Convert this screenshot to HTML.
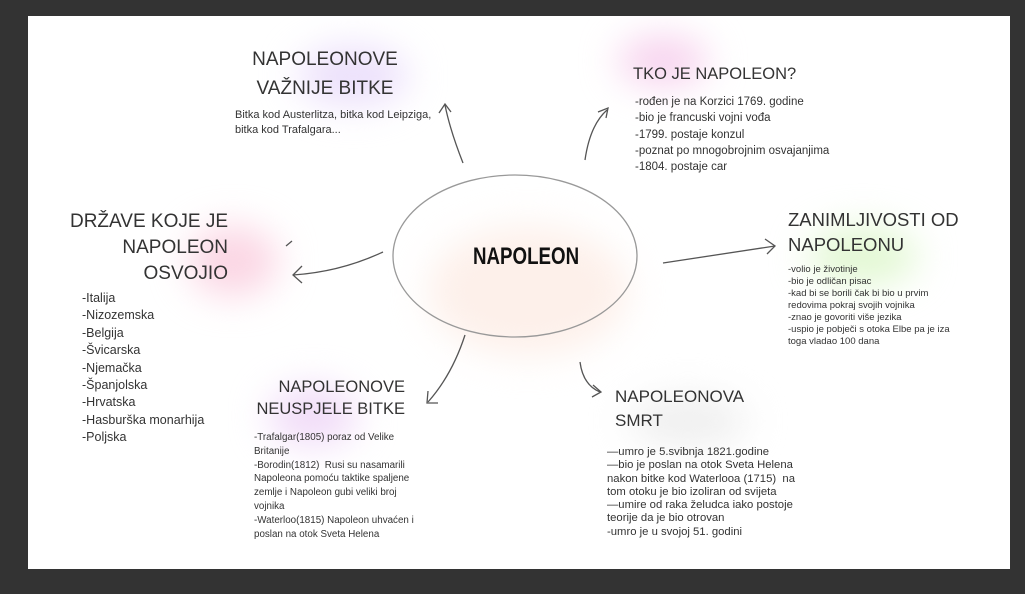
<!DOCTYPE html>
<html><head><meta charset="utf-8"><style>
body{margin:0;width:1025px;height:594px;background:#333;position:relative;overflow:hidden;font-family:"Liberation Sans",sans-serif;}
#card{position:absolute;left:28px;top:16px;width:982px;height:553px;background:#fff;overflow:hidden}
.g{position:absolute;border-radius:50%;filter:blur(18px)}
.h{position:absolute;font-family:"Liberation Sans",sans-serif;color:#333;font-size:19px;line-height:27px;white-space:nowrap}
.t{position:absolute;color:#333;font-size:10px;line-height:17px;white-space:nowrap}
</style></head><body>
<div id="card">
<div class="g" style="left:270px;top:30px;width:110px;height:60px;background:#ece0fb"></div>
<div class="g" style="left:590px;top:20px;width:90px;height:50px;background:#f7d3ee"></div>
<div class="g" style="left:160px;top:210px;width:90px;height:70px;background:#fbd6e4"></div>
<div class="g" style="left:780px;top:210px;width:110px;height:60px;background:#e3f8d4"></div>
<div class="g" style="left:240px;top:370px;width:90px;height:60px;background:#f1dcf8"></div>
<div class="g" style="left:600px;top:380px;width:120px;height:50px;background:#efefef"></div>
<div class="g" style="left:400px;top:210px;width:200px;height:130px;background:#fdf0ea"></div>
</div>
<svg style="position:absolute;left:0;top:0" width="1025" height="594" fill="none" stroke="#555" stroke-width="1.3">
<ellipse cx="515" cy="256" rx="122" ry="81" stroke="#999"/>
<path d="M463 163 Q450 130 445 105"/><path d="M439 113 L445 104 L451 112"/>
<path d="M585 160 Q590 125 607 110"/><path d="M598 112 L608 108 L606 118"/>
<path d="M663 263 L775 246"/><path d="M765 239 L775 246 L767 254"/>
<path d="M383 252 Q340 272 293 275"/><path d="M302 266 L293 275 L302 283"/><path d="M286 246 L292 241"/>
<path d="M465 335 Q452 375 428 402"/><path d="M428 391 L427 403 L438 403"/>
<path d="M580 362 Q583 385 600 392"/><path d="M593 385 L601 392 L592 397"/>
</svg>
<div style="position:absolute;left:473px;top:243px;font-family:'Liberation Sans Narrow','Liberation Sans',sans-serif;font-weight:bold;font-size:24px;color:#111;transform:scaleX(0.78);transform-origin:left;white-space:nowrap">NAPOLEON</div>
<div class="h" style="left:250px;top:45px;text-align:center;width:150px;line-height:29px">NAPOLEONOVE<br>VAŽNIJE BITKE</div>
<div class="t" style="left:235px;top:108px;line-height:15px;font-size:11px">Bitka kod Austerlitza, bitka kod Leipziga,<br>bitka kod Trafalgara...</div>
<div class="h" style="left:633px;top:61px;font-size:16.5px">TKO JE NAPOLEON?</div>
<div class="t" style="left:635px;top:94px;font-size:11.5px;line-height:16.3px">-rođen je na Korzici 1769. godine<br>-bio je francuski vojni vođa<br>-1799. postaje konzul<br>-poznat po mnogobrojnim osvajanjima<br>-1804. postaje car</div>
<div class="h" style="left:60px;top:209px;text-align:right;width:168px;line-height:26px">DRŽAVE KOJE JE<br>NAPOLEON<br>OSVOJIO</div>
<div class="t" style="left:82px;top:290px;font-size:12.5px;line-height:17.4px">-Italija<br>-Nizozemska<br>-Belgija<br>-Švicarska<br>-Njemačka<br>-Španjolska<br>-Hrvatska<br>-Hasburška monarhija<br>-Poljska</div>
<div class="h" style="left:788px;top:207px;font-size:18.5px;line-height:25px">ZANIMLJIVOSTI OD<br>NAPOLEONU</div>
<div class="t" style="left:788px;top:264px;line-height:12px;font-size:9.5px">-volio je životinje<br>-bio je odličan pisac<br>-kad bi se borili čak bi bio u prvim<br>redovima pokraj svojih vojnika<br>-znao je govoriti više jezika<br>-uspio je pobječi s otoka Elbe pa je iza<br>toga vladao 100 dana</div>
<div class="h" style="left:255px;top:376px;text-align:right;width:150px;font-size:16.5px;line-height:22px">NAPOLEONOVE<br>NEUSPJELE BITKE</div>
<div class="t" style="left:254px;top:431px;font-size:9.8px;line-height:13.8px">-Trafalgar(1805) poraz od Velike<br>Britanije<br>-Borodin(1812)&nbsp; Rusi su nasamarili<br>Napoleona pomoću taktike spaljene<br>zemlje i Napoleon gubi veliki broj<br>vojnika<br>-Waterloo(1815) Napoleon uhvaćen i<br>poslan na otok Sveta Helena</div>
<div class="h" style="left:615px;top:385px;font-size:17px;line-height:24px">NAPOLEONOVA<br>SMRT</div>
<div class="t" style="left:607px;top:446px;font-size:11.3px;line-height:13.3px">—umro je 5.svibnja 1821.godine<br>—bio je poslan na otok Sveta Helena<br>nakon bitke kod Waterlooa (1715)&nbsp; na<br>tom otoku je bio izoliran od svijeta<br>—umire od raka želudca iako postoje<br>teorije da je bio otrovan<br>-umro je u svojoj 51. godini</div>
</body></html>
